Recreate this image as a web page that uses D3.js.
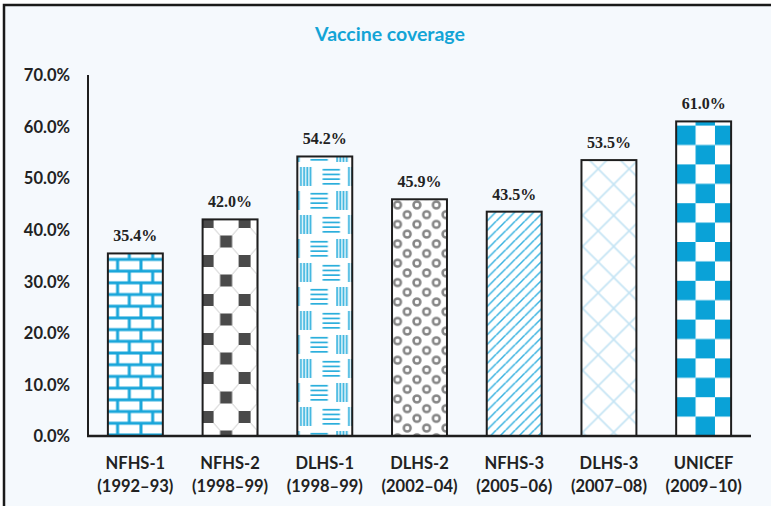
<!DOCTYPE html>
<html><head><meta charset="utf-8">
<script src="https://cdn.jsdelivr.net/npm/d3@7/dist/d3.min.js"></script>
<style>html,body{margin:0;padding:0;background:#fff;}svg{display:block;}</style>
</head><body>
<svg id="chart" width="771" height="506"></svg>
<script>
const categories = ["NFHS-1", "NFHS-2", "DLHS-1", "DLHS-2", "NFHS-3", "DLHS-3", "UNICEF"];
const periods = ["(1992–93)", "(1998–99)", "(1998–99)", "(2002–04)", "(2005–06)", "(2007–08)", "(2009–10)"];
const values = [35.4, 42.0, 54.2, 45.9, 43.5, 53.5, 61.0];
const yTicks = [0, 10, 20, 30, 40, 50, 60, 70];
const patternNames = ["brick", "octagon", "weave", "rings", "diag", "cross", "checker"];
const title = "Vaccine coverage";

const svg = d3.select("#chart");
const W = 771, H = 506;
const x0 = 88, x1 = 751, yBase = 436, yTop = 75;

// frame
svg.append("rect").attr("x", 4).attr("y", 5).attr("width", W + 10).attr("height", H + 10)
  .attr("fill", "#f5f9fd").attr("stroke", "#1a1a1a").attr("stroke-width", 2.5);

const x = d3.scaleBand().domain(categories).range([x0, x1]).paddingInner(0.42).paddingOuter(0.21);
const y = d3.scaleLinear().domain([0, 70]).range([yBase, yTop]);

const defs = svg.append("defs");
const BLUE = "#19a6da";

function makePattern(name, i) {
  const bx = x(categories[i]), top = y(values[i]);
  const id = "pat-" + name;
  let p;
  if (name === "brick") {
    const w = 23.4, h = 23.4;
    p = defs.append("pattern").attr("id", id).attr("patternUnits", "userSpaceOnUse")
      .attr("x", bx).attr("y", top + 6).attr("width", w).attr("height", h);
    p.append("rect").attr("width", w).attr("height", h).attr("fill", "#fff");
    p.append("rect").attr("x", 0).attr("y", 0).attr("width", w).attr("height", 1.5).attr("fill", BLUE);
    p.append("rect").attr("x", 0).attr("y", h - 1.5).attr("width", w).attr("height", 1.5).attr("fill", BLUE);
    p.append("rect").attr("x", 0).attr("y", h / 2 - 1.5).attr("width", w).attr("height", 3).attr("fill", BLUE);
    p.append("rect").attr("x", 9.7 - 1.5).attr("y", 0).attr("width", 3).attr("height", h / 2).attr("fill", BLUE);
    p.append("rect").attr("x", 21.4 - 1.5).attr("y", h / 2).attr("width", 3).attr("height", h / 2).attr("fill", BLUE);
  } else if (name === "octagon") {
    const w = 37, h = 39, s = 12;
    p = defs.append("pattern").attr("id", id).attr("patternUnits", "userSpaceOnUse")
      .attr("x", bx + 5 - 37).attr("y", top + 2.6).attr("width", w).attr("height", h);
    p.append("rect").attr("width", w).attr("height", h).attr("fill", "#fff");
    const segs = [[6, 6, 12.5, 13.5], [31, 6, 24.5, 13.5], [6, 33, 12.5, 25.5], [31, 33, 24.5, 25.5]];
    segs.forEach(sg => p.append("line").attr("x1", sg[0]).attr("y1", sg[1]).attr("x2", sg[2]).attr("y2", sg[3])
      .attr("stroke", "#c8c8c8").attr("stroke-width", 1));
    [[0, 0], [w, 0], [0, h], [w, h], [w / 2, h / 2]].forEach(c =>
      p.append("rect").attr("x", c[0] - s / 2).attr("y", c[1] - s / 2).attr("width", s).attr("height", s).attr("fill", "#4a4a4a"));
  } else if (name === "weave") {
    const w = 48, h = 48, col = "#2aaedc";
    p = defs.append("pattern").attr("id", id).attr("patternUnits", "userSpaceOnUse")
      .attr("x", bx).attr("y", top + 10.5).attr("width", w).attr("height", h);
    p.append("rect").attr("width", w).attr("height", h).attr("fill", "#fff");
    const rows = [{y: 0, vx: 3.6, hx: 25.3}, {y: 24, vx: 39.8, hx: 13.2}];
    rows.forEach(r => {
      [-w, 0, w].forEach(off => {
        for (let k = 0; k < 4; k++) {
          p.append("rect").attr("x", r.vx + off + k * 3.2 - 0.8).attr("y", r.y).attr("width", 1.7).attr("height", 19).attr("fill", col);
          p.append("rect").attr("x", r.hx + off).attr("y", r.y + 2.7 + k * 4.7 - 0.8).attr("width", 17.3).attr("height", 1.7).attr("fill", col);
        }
      });
    });
  } else if (name === "rings") {
    const w = 19.4, h = 19.4;
    p = defs.append("pattern").attr("id", id).attr("patternUnits", "userSpaceOnUse")
      .attr("x", bx + 5.5).attr("y", top + 5.7).attr("width", w).attr("height", h);
    p.append("rect").attr("width", w).attr("height", h).attr("fill", "#fff");
    [[0, 0], [w, 0], [0, h], [w, h], [w / 2, h / 2]].forEach(c =>
      p.append("circle").attr("cx", c[0]).attr("cy", c[1]).attr("r", 3.4).attr("fill", "none")
        .attr("stroke", "#858585").attr("stroke-width", 2.5));
  } else if (name === "diag") {
    const w = 9.5;
    p = defs.append("pattern").attr("id", id).attr("patternUnits", "userSpaceOnUse")
      .attr("x", bx).attr("y", top).attr("width", w).attr("height", w);
    p.append("rect").attr("width", w).attr("height", w).attr("fill", "#fff");
    [-w, 0, w].forEach(off => p.append("line").attr("x1", off).attr("y1", w).attr("x2", off + w).attr("y2", 0)
      .attr("stroke", "#35b1e0").attr("stroke-width", 1.5));
  } else if (name === "cross") {
    const w = 31;
    p = defs.append("pattern").attr("id", id).attr("patternUnits", "userSpaceOnUse")
      .attr("x", bx + 1.2).attr("y", top - 6.7).attr("width", w).attr("height", w);
    p.append("rect").attr("width", w).attr("height", w).attr("fill", "#fff");
    p.append("line").attr("x1", 0).attr("y1", 0).attr("x2", w).attr("y2", w).attr("stroke", "#c4e4f4").attr("stroke-width", 1.6);
    p.append("line").attr("x1", w).attr("y1", 0).attr("x2", 0).attr("y2", w).attr("stroke", "#c4e4f4").attr("stroke-width", 1.6);
  } else if (name === "checker") {
    const c = 19.4;
    p = defs.append("pattern").attr("id", id).attr("patternUnits", "userSpaceOnUse")
      .attr("x", bx).attr("y", yBase - 2 * c * 9).attr("width", 2 * c).attr("height", 2 * c);
    p.append("rect").attr("width", 2 * c).attr("height", 2 * c).attr("fill", "#fff");
    p.append("rect").attr("x", 0).attr("y", 0).attr("width", c).attr("height", c).attr("fill", "#0aa2d7");
    p.append("rect").attr("x", c).attr("y", c).attr("width", c).attr("height", c).attr("fill", "#0aa2d7");
  }
  return "url(#" + id + ")";
}

// title
svg.append("text").attr("x", 390).attr("y", 41).attr("text-anchor", "middle")
  .attr("font-family", "Lato, 'Open Sans', sans-serif").attr("font-weight", "bold").attr("font-size", 19.5)
  .attr("fill", "#13a4d6").text(title);

// y tick labels
const yAxis = d3.axisLeft(y).tickValues(yTicks).tickSize(0).tickPadding(18).tickFormat(d => d.toFixed(1) + "%");
const gy = svg.append("g").attr("transform", `translate(${x0},0)`).call(yAxis);
gy.select(".domain").remove();
gy.selectAll("text").attr("font-family", "Lato, sans-serif").attr("font-weight", "bold")
  .attr("font-size", 16.5).attr("fill", "#222").attr("dy", "0.35em");

// bars
const bars = svg.append("g");
categories.forEach((c, i) => {
  bars.append("rect").attr("x", x(c)).attr("y", y(values[i])).attr("width", x.bandwidth())
    .attr("height", y(0) - y(values[i])).attr("fill", makePattern(patternNames[i], i))
    .attr("stroke", "#1e1e1e").attr("stroke-width", 2);
});

// value labels
svg.append("g").selectAll("text").data(values).join("text")
  .attr("x", (d, i) => x(categories[i]) + x.bandwidth() / 2)
  .attr("y", d => y(d) - 12).attr("text-anchor", "middle")
  .attr("font-family", "'Liberation Serif', serif").attr("font-weight", "bold").attr("font-size", 16)
  .attr("fill", "#222").text(d => d.toFixed(1) + "%");

// axes lines
svg.append("line").attr("x1", x0).attr("x2", x0).attr("y1", yTop).attr("y2", yBase + 1)
  .attr("stroke", "#1e1e1e").attr("stroke-width", 2);
svg.append("line").attr("x1", x0 - 1).attr("x2", x1).attr("y1", yBase).attr("y2", yBase)
  .attr("stroke", "#1e1e1e").attr("stroke-width", 2.5);

// category labels
const gx = svg.append("g");
categories.forEach((c, i) => {
  const cx = x(c) + x.bandwidth() / 2;
  const t = gx.append("text").attr("text-anchor", "middle").attr("font-family", "Lato, sans-serif")
    .attr("font-weight", "bold").attr("font-size", 16.5).attr("fill", "#222");
  t.append("tspan").attr("x", cx).attr("y", 469).text(c);
  t.append("tspan").attr("x", cx).attr("y", 492).text(periods[i]);
});
</script>
</body></html>
